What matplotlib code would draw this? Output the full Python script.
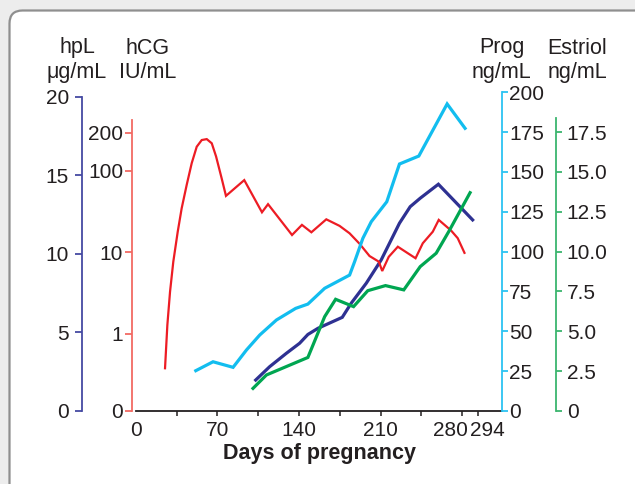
import numpy as np
import matplotlib
matplotlib.use("Agg")
import matplotlib.pyplot as plt
from matplotlib.patches import FancyBboxPatch
from matplotlib.transforms import IdentityTransform

plt.rcParams['font.family'] = ['Liberation Sans', 'DejaVu Sans']
plt.rcParams['font.size'] = 15

# ---------------- data ----------------
days_hcg = [25.0, 27.0, 29.3, 32.1, 35.9, 39.3, 43.6, 47.9, 52.2, 56.5, 60.8, 65.1,
            68.8, 73.6, 77.3, 93.0, 108.2, 113.4, 134.0, 142.5, 150.6, 163.4, 174.8,
            183.4, 192.0, 200.5, 208.5, 211.4, 217.0, 224.8, 240.0, 246.2, 254.8,
            259.9, 270.5, 276.2, 282.0]
hcg = [0.555, 1.29, 3.29, 7.67, 17.9, 34.8, 67.3, 115, 155, 175, 178, 165,
       130, 81, 49.3, 77, 31, 39, 16.3, 21.7, 17.6, 25.4, 21.1,
       17.1, 12.7, 9.0, 7.67, 5.9, 8.8, 11.7, 8.45, 12.9, 17.9,
       25, 18.5, 14.9, 9.84]

days_prog = [51.4, 66.2, 83.4, 94.9, 106.3, 120.6, 137.1, 147.6, 162.0, 183.4,
             187.7, 194.8, 202.0, 215.3, 226.2, 242.8, 267.1, 282.5]
prog = [25.3, 30.9, 27.4, 38.3, 47.7, 57.1, 64.4, 67.1, 77.0, 85.3,
        93.7, 108.4, 118.8, 131.3, 155.0, 160.0, 192.7, 177.4]

days_hpl = [102.8, 114.8, 129.1, 140.5, 147.6, 156.2, 177.1, 184.8, 197.7,
            210.5, 226.2, 235.4, 244.0, 259.6, 289.0]
hpl = [1.97, 2.82, 3.67, 4.31, 4.87, 5.26, 5.96, 6.86, 8.13,
       9.61, 11.95, 13.0, 13.54, 14.43, 12.16]

days_est = [100.5, 112.0, 147.6, 162.0, 171.4, 186.8, 199.0, 214.2, 229.9,
            244.0, 257.7, 268.5, 286.8]
est = [1.42, 2.26, 3.36, 5.92, 7.01, 6.55, 7.55, 7.87, 7.6,
       9.06, 9.9, 11.26, 13.7]

x_ticks = [0, 35, 70, 105, 140, 175, 210, 245, 280, 294]
x_ticklabels = ['0', '', '70', '', '140', '', '210', '', '', '']
hpl_ticks = [0, 5, 10, 15, 20]
hcg_ticks = [0, 1, 10, 100, 200]
prog_ticks = [0, 25, 50, 75, 100, 125, 150, 175, 200]
est_ticks = [0, 2.5, 5.0, 7.5, 10.0, 12.5, 15.0, 17.5]
est_ticklabels = ['0', '2.5', '5.0', '7.5', '10.0', '12.5', '15.0', '17.5']

# ---------------- styles ----------------
C_RED = '#ed1c24'
C_CYAN = '#12bdef'
C_BLUE = '#2e3192'
C_GREEN = '#00a651'
S_RED = '#f26a63'
S_CYAN = '#2cc3f2'
S_BLUE = '#454aa3'
S_GREEN = '#3cb56e'
TXT = '#231f20'

W, H = 635, 484
fig = plt.figure(figsize=(W / 100, H / 100), dpi=100, facecolor='#ededed')
fig.add_artist(FancyBboxPatch((9.5, -40), 720, H - 10.5 + 40,
                              boxstyle='round,pad=0,rounding_size=13',
                              transform=IdentityTransform(), fc='white',
                              ec='#8f8f8f', lw=1.6, zorder=-10))

x0px, x1px, y0px, y1px = 135.9, 502.0, 411.0, 92.3
ax = fig.add_axes([x0px / W, 1 - y0px / H, (x1px - x0px) / W, (y0px - y1px) / H])
ax.set_facecolor('none')
XMAX = 314.2
ax.set_xlim(0, XMAX)
HPL_TOP = 20.28
ax.set_ylim(0, HPL_TOP)

# hCG log-like piecewise scale (as drawn in the figure)
POSK = [4.90, 10.10, 15.28, 17.71, 17.71 + 8.07 * 1.699]
LOGK = [0.0, 1.0, 2.0, np.log10(200), 4.0]


def fwd(v):
    v = np.asarray(v, dtype=float)
    lv = np.log10(np.clip(v, 1.0, None))
    hi = np.interp(lv, LOGK, POSK)
    return np.where(v <= 1.0, POSK[0] * v, hi)


def inv(p):
    p = np.asarray(p, dtype=float)
    hi = 10 ** np.interp(p, POSK, LOGK)
    return np.where(p <= POSK[0], p / POSK[0], hi)


axr = ax.twinx()
axp = ax.twinx()
axe = ax.twinx()
for a in (axr, axp, axe):
    a.set_facecolor('none')
    for s in a.spines.values():
        s.set_visible(False)

# main (hpL) axis
ax.spines['top'].set_visible(False)
ax.spines['right'].set_visible(False)
ax.spines['left'].set_position(('outward', 53.9 * 0.72))
ax.spines['left'].set_color(S_BLUE)
ax.spines['left'].set_linewidth(1.3)
ax.spines['left'].set_bounds(0, 20)
ax.spines['bottom'].set_color('#231f20')
ax.spines['bottom'].set_linewidth(1.3)
ax.set_yticks(hpl_ticks)
ax.set_yticklabels([str(t) for t in hpl_ticks])
ax.tick_params(axis='y', color=S_BLUE, labelcolor=TXT, length=5, width=1.3, pad=4.5)
ax.set_xticks(x_ticks)
ax.set_xticklabels(x_ticklabels)
ax.tick_params(axis='x', color='#231f20', labelcolor=TXT, length=3.6, width=1.1, pad=3.5)
ax.xaxis.get_major_ticks()[0].tick1line.set_visible(False)
for lab, dx, ha in (('280', 5.5, 'right'), ('294', -8.0, 'left')):
    ax.annotate(lab, xy=(float(lab), 0), xycoords=('data', 'axes fraction'),
                xytext=(dx * 0.72, -(3.6 + 3.5)), textcoords='offset points',
                ha=ha, va='top', color=TXT)

# hCG axis (left, red)
axr.set_yscale('function', functions=(fwd, inv))
axr.set_ylim(0, float(inv(HPL_TOP)))
axr.yaxis.tick_left()
axr.spines['left'].set_visible(True)
axr.spines['left'].set_position(('outward', 4.2 * 0.72))
axr.spines['left'].set_color(S_RED)
axr.spines['left'].set_linewidth(1.3)
axr.spines['left'].set_bounds(0, float(inv((411 - 120) / 15.71)))
axr.set_yticks(hcg_ticks)
axr.set_yticklabels([str(t) for t in hcg_ticks])
axr.yaxis.set_minor_locator(matplotlib.ticker.NullLocator())
axr.tick_params(axis='y', color=S_RED, labelcolor=TXT, length=4.7, width=1.3, pad=1.5)

# Prog axis (right, cyan)
axp.set_ylim(0, 200)
axp.spines['right'].set_visible(True)
axp.spines['right'].set_color(S_CYAN)
axp.spines['right'].set_linewidth(1.3)
axp.spines['right'].set_bounds(0, 200)
axp.set_yticks(prog_ticks)
axp.set_yticklabels([str(t) for t in prog_ticks])
axp.tick_params(axis='y', color=S_CYAN, labelcolor=TXT, length=4.3, width=1.3, pad=1.0)

# Estriol axis (right, green)
axe.set_ylim(0, 20.0)
axe.spines['right'].set_visible(True)
axe.spines['right'].set_position(('outward', 54.3 * 0.72))
axe.spines['right'].set_color(S_GREEN)
axe.spines['right'].set_linewidth(1.3)
axe.spines['right'].set_bounds(0, 18.37)
axe.set_yticks(est_ticks)
axe.set_yticklabels(est_ticklabels)
axe.tick_params(axis='y', color=S_GREEN, labelcolor=TXT, length=4.0, width=1.3, pad=3.5)

# lines
ax.plot(days_hpl, hpl, color=C_BLUE, lw=2.3, solid_joinstyle='miter', zorder=3)
axr.plot(days_hcg, hcg, color=C_RED, lw=1.6, solid_joinstyle='miter', zorder=3)
axp.plot(days_prog, prog, color=C_CYAN, lw=2.3, solid_joinstyle='miter', zorder=3)
axe.plot(days_est, est, color=C_GREEN, lw=2.3, solid_joinstyle='miter', zorder=3)

# header labels
for xc, l1, l2 in ((77, 'hpL', 'μg/mL'), (148, 'hCG', 'IU/mL'),
                   (501.5, 'Prog', 'ng/mL'), (577.5, 'Estriol', 'ng/mL')):
    fig.text(xc / W, 1 - 53.5 / H, l1, ha='center', va='baseline', color=TXT, fontsize=15.5)
    fig.text(xc / W, 1 - 78.0 / H, l2, ha='center', va='baseline', color=TXT, fontsize=15.5)

fig.text(319.5 / W, 1 - 453 / H, 'Days of pregnancy', ha='center', va='center',
         fontweight='bold', color=TXT, fontsize=15.5)

fig.savefig('out.png', dpi=100, facecolor=fig.get_facecolor())
